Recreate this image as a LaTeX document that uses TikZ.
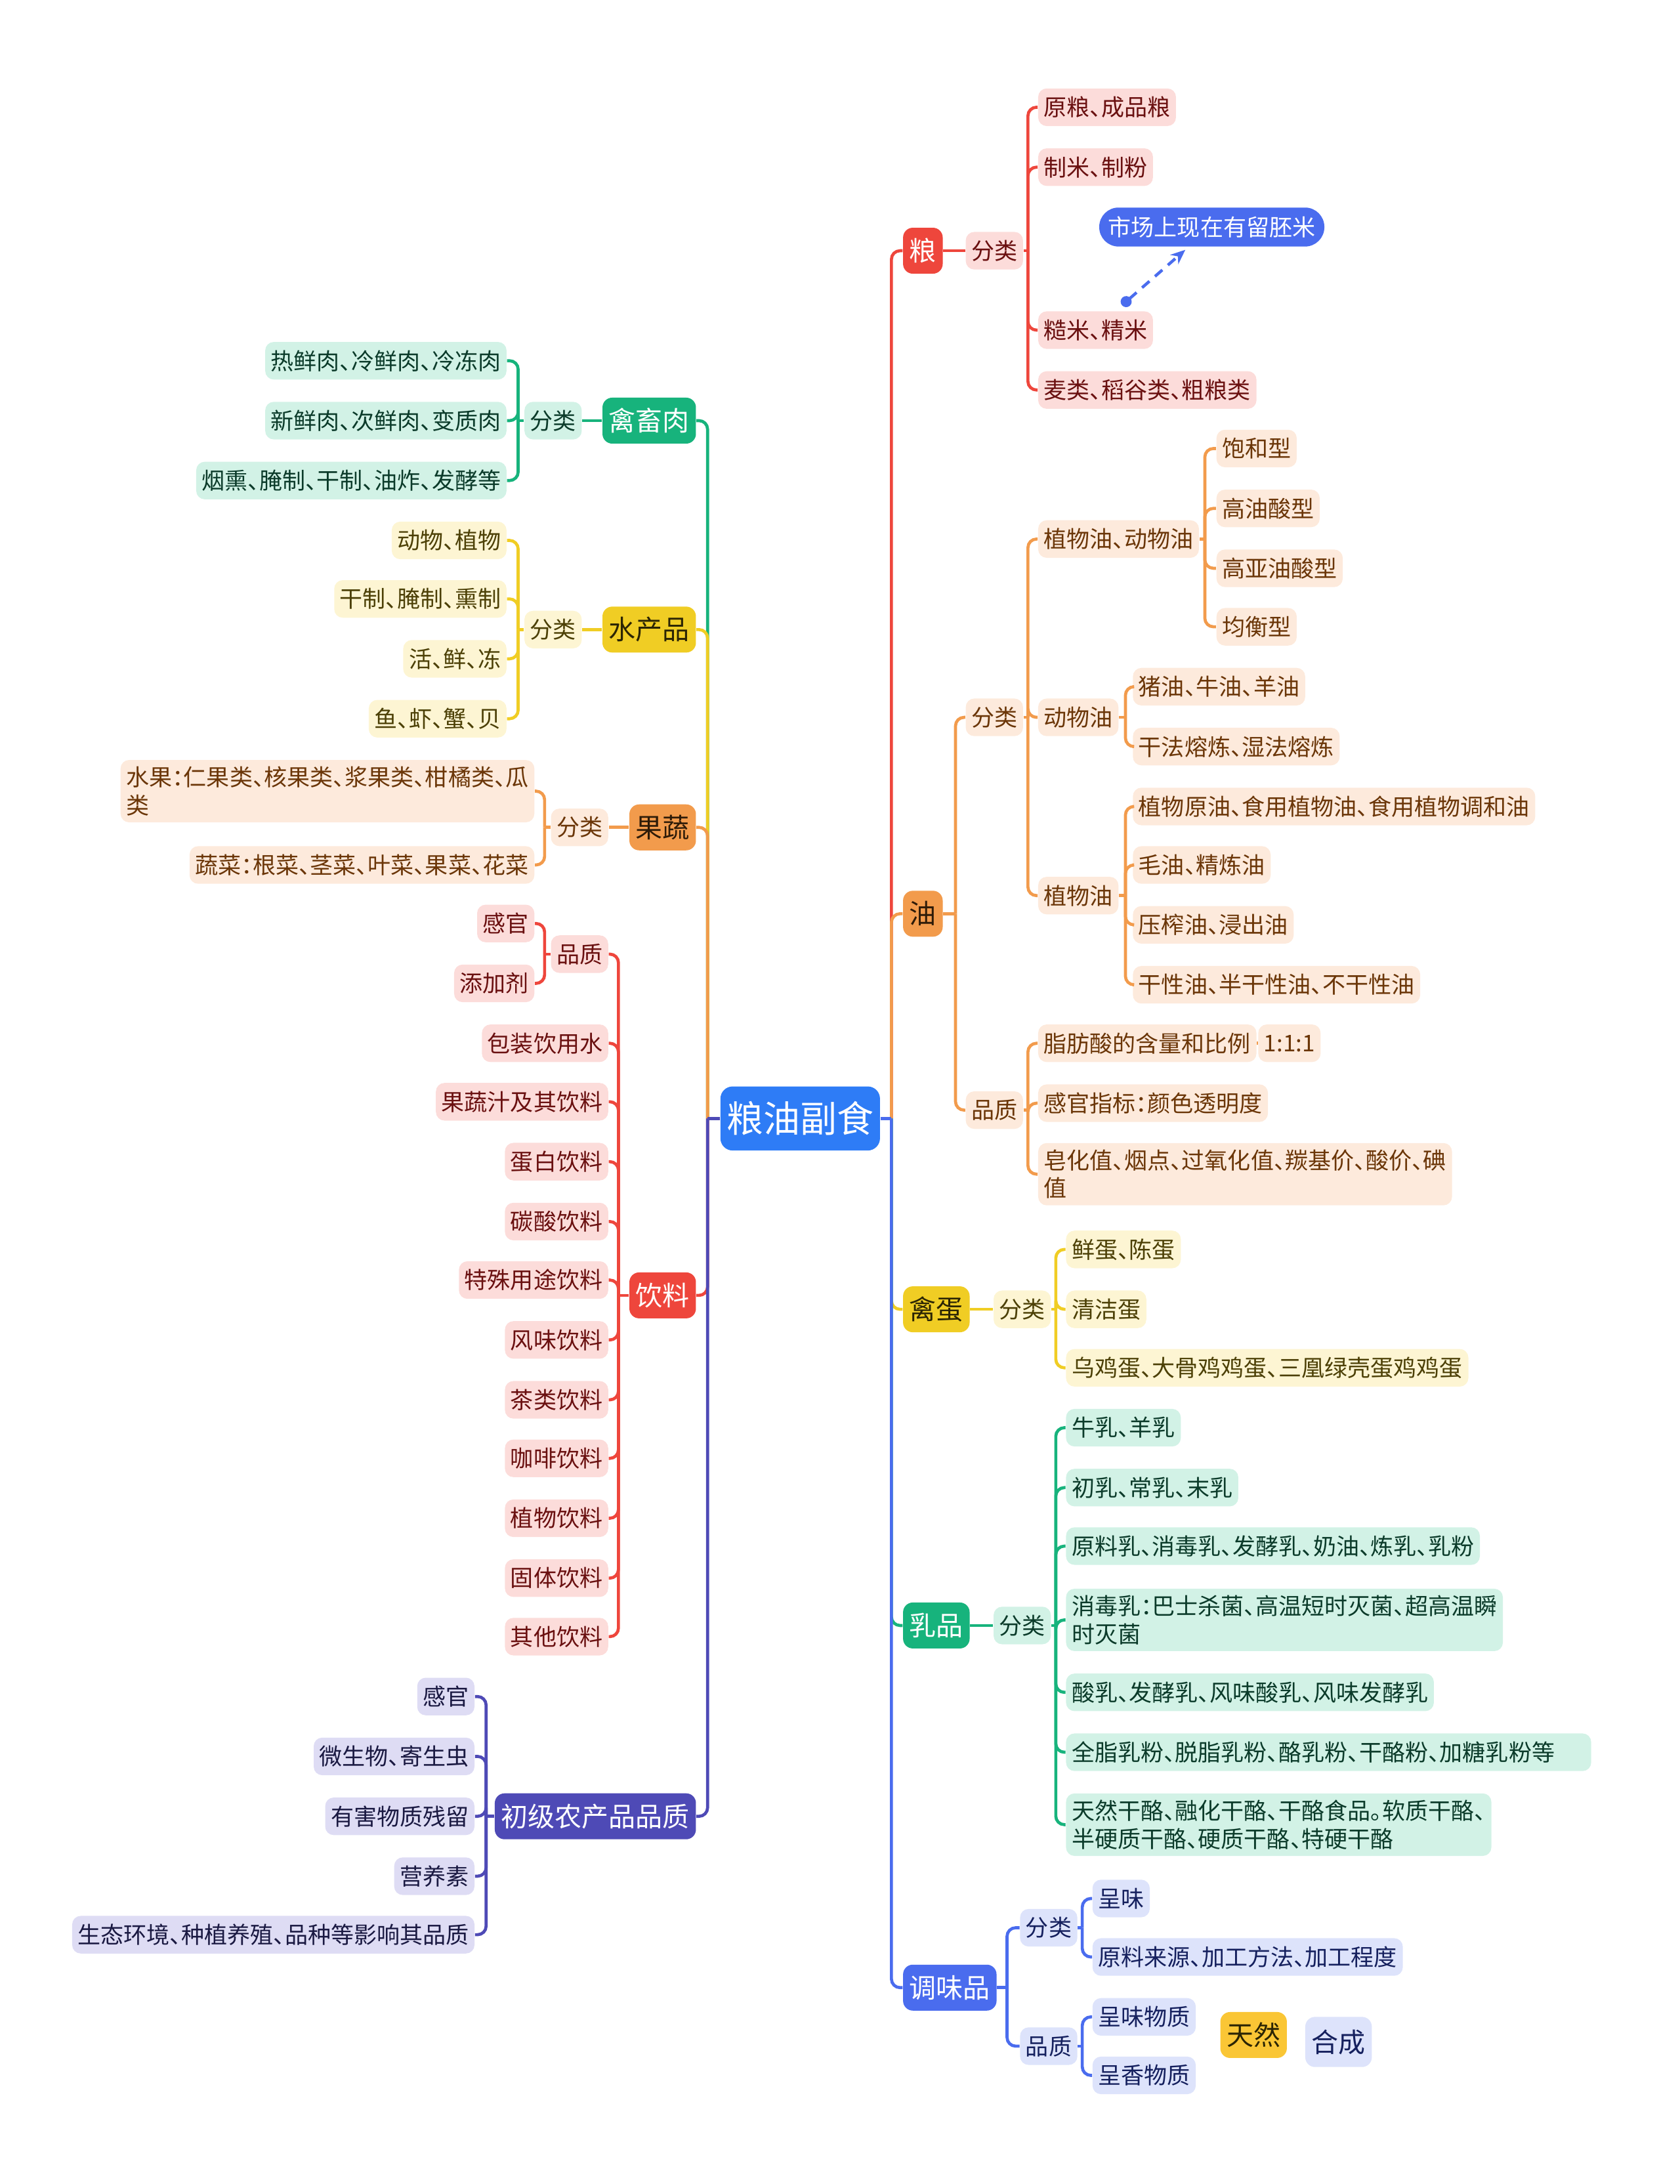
\documentclass[tikz,border=0pt]{standalone}
\usepackage{fontspec}
\setmainfont{Noto Sans CJK SC}[RawFeature=+halt]
\usetikzlibrary{arrows.meta}

\definecolor{cRoot}{HTML}{2E7CF6}
\definecolor{cRed}{HTML}{EE463C}
\definecolor{cRedF}{HTML}{FCDCDA}
\definecolor{cRedT}{HTML}{6A1010}
\definecolor{cOra}{HTML}{F29B4C}
\definecolor{cOraF}{HTML}{FDEADC}
\definecolor{cOraT}{HTML}{6B3608}
\definecolor{cOraD}{HTML}{2E1B08}
\definecolor{cYel}{HTML}{F0CD24}
\definecolor{cYelF}{HTML}{FDF5D3}
\definecolor{cYelT}{HTML}{4C4006}
\definecolor{cYelD}{HTML}{2B2504}
\definecolor{cGre}{HTML}{17B37C}
\definecolor{cGreF}{HTML}{D2F2E6}
\definecolor{cGreT}{HTML}{0B3B2A}
\definecolor{cBlu}{HTML}{4A6CEE}
\definecolor{cBluF}{HTML}{DDE3FB}
\definecolor{cBluT}{HTML}{15205E}
\definecolor{cInd}{HTML}{4E4AB6}
\definecolor{cIndF}{HTML}{DEDCF4}
\definecolor{cIndT}{HTML}{1A1942}
\definecolor{cGold}{HTML}{FAC635}

\tikzset{
  leafbox/.style={rounded corners=3.5pt, inner xsep=2.3pt, inner ysep=2.7pt, minimum height=0.54cm, align=left, font=\fontsize{9.4}{11.4}\selectfont},
  topicnode/.style={rounded corners=4pt, inner xsep=2.6pt, inner ysep=1pt, minimum height=0.66cm, font=\fontsize{11}{13}\selectfont},
  rootnode/.style={rounded corners=5pt, fill=cRoot, text=white, inner xsep=2.6pt, minimum height=0.92cm, font=\fontsize{15}{18}\selectfont},
  notenode/.style={leafbox, fill=cBlu, text=white, rounded corners=7.9pt, inner xsep=3.7pt, minimum height=0.56cm},
  rleaf/.style={leafbox, fill=cRedF, text=cRedT},
  oleaf/.style={leafbox, fill=cOraF, text=cOraT},
  yleaf/.style={leafbox, fill=cYelF, text=cYelT},
  gleaf/.style={leafbox, fill=cGreF, text=cGreT},
  bleaf/.style={leafbox, fill=cBluF, text=cBluT},
  ileaf/.style={leafbox, fill=cIndF, text=cIndT},
  rline/.style={draw=cRed, line width=1.25pt, rounded corners=3.5pt},
  oline/.style={draw=cOra, line width=1.25pt, rounded corners=3.5pt},
  yline/.style={draw=cYel, line width=1.25pt, rounded corners=3.5pt},
  gline/.style={draw=cGre, line width=1.25pt, rounded corners=3.5pt},
  bline/.style={draw=cBlu, line width=1.25pt, rounded corners=3.5pt},
  iline/.style={draw=cInd, line width=1.25pt, rounded corners=3.5pt},
  notearrow/.style={draw=cBlu, line width=1.2pt, dash pattern=on 4pt off 3pt, {Circle[length=4.5pt]}-{Stealth[length=6pt,width=5pt]}}
}

\begin{document}
\begin{tikzpicture}[x=0.02cm, y=-0.02cm]
\useasboundingbox (0,0) rectangle (1206,1568);

% centre
\node[rootnode] (root) at (574.5,803) {粮油副食};
\coordinate (jr) at (640,803);
\coordinate (jl) at (508,803);

% topics right
\node[topicnode, fill=cRed, text=white, anchor=west] (liang) at (648,180) {粮};
\node[topicnode, fill=cOra, text=cOraD, anchor=west] (you) at (648,656) {油};
\node[topicnode, fill=cYel, text=cYelD, anchor=west] (qd) at (648,940) {禽蛋};
\node[topicnode, fill=cGre, text=white, anchor=west] (rp) at (648,1167) {乳品};
\node[topicnode, fill=cBlu, text=white, anchor=west] (twp) at (648,1427) {调味品};

% topics left
\node[topicnode, fill=cGre, text=white, anchor=east] (qcr) at (500,302) {禽畜肉};
\node[topicnode, fill=cYel, text=cYelD, anchor=east] (scp) at (500,452) {水产品};
\node[topicnode, fill=cOra, text=cOraD, anchor=east] (gs) at (500,594) {果蔬};
\node[topicnode, fill=cRed, text=white, anchor=east] (yl) at (500,930) {饮料};
\node[topicnode, fill=cInd, text=white, anchor=east] (cj) at (500,1304) {初级农产品品质};

% main branches
\draw[rline] (jr) |- (liang.west);
\draw[oline] (jr) |- (you.west);
\draw[yline] (jr) |- (qd.west);
\draw[gline] (jr) |- (rp.west);
\draw[bline] (jr) |- (twp.west);
\draw[bline] (root.east) -- (jr);
\draw[gline] (jl) |- (qcr.east);
\draw[yline] (jl) |- (scp.east);
\draw[oline] (jl) |- (gs.east);
\draw[rline] (jl) |- (yl.east);
\draw[iline] (jl) |- (cj.east);
\draw[iline] (root.west) -- (jl);

% 粮
\node[rleaf, anchor=west] (liangfl) at (693,180) {分类};
\node[rleaf, anchor=west] (l1) at (745,77) {原粮、成品粮};
\node[rleaf, anchor=west] (l2) at (745,120) {制米、制粉};
\node[rleaf, anchor=west] (l3) at (745,237) {糙米、精米};
\node[rleaf, anchor=west] (l4) at (745,280) {麦类、稻谷类、粗粮类};
\node[notenode] (note) at (870,163) {市场上现在有留胚米};
\coordinate (jliang) at (738,180);
\draw[rline] (liang.east) -- (liangfl.west);
\draw[rline] (liangfl.east) -- (jliang);
\foreach \n in {l1,l2,l3,l4} \draw[rline] (jliang) |- (\n.west);
\draw[notearrow] ([xshift=0.38cm,yshift=0.08cm]l3.north) -- ([xshift=-0.38cm,yshift=-0.04cm]note.south);

% 油
\node[oleaf, anchor=west] (youfl) at (693,515) {分类};
\node[oleaf, anchor=west] (youpz) at (693,797) {品质};
\node[oleaf, anchor=west] (yf1) at (745,387) {植物油、动物油};
\node[oleaf, anchor=west] (yf2) at (745,515) {动物油};
\node[oleaf, anchor=west] (yf3) at (745,643) {植物油};
\node[oleaf, anchor=west] (yf1a) at (873,322) {饱和型};
\node[oleaf, anchor=west] (yf1b) at (873,365) {高油酸型};
\node[oleaf, anchor=west] (yf1c) at (873,408) {高亚油酸型};
\node[oleaf, anchor=west] (yf1d) at (873,450) {均衡型};
\node[oleaf, anchor=west] (yf2a) at (813,493) {猪油、牛油、羊油};
\node[oleaf, anchor=west] (yf2b) at (813,536) {干法熔炼、湿法熔炼};
\node[oleaf, anchor=west] (yf3a) at (813,579) {植物原油、食用植物油、食用植物调和油};
\node[oleaf, anchor=west] (yf3b) at (813,621) {毛油、精炼油};
\node[oleaf, anchor=west] (yf3c) at (813,664) {压榨油、浸出油};
\node[oleaf, anchor=west] (yf3d) at (813,707) {干性油、半干性油、不干性油};
\node[oleaf, anchor=west] (yp1) at (745,749) {脂肪酸的含量和比例};
\node[oleaf, anchor=west] (yp1r) at (903,749) {1:1:1};
\node[oleaf, anchor=west] (yp2) at (745,792) {感官指标：颜色透明度};
\node[oleaf, anchor=west] (yp3) at (745,843) {皂化值、烟点、过氧化值、羰基价、酸价、碘\\值};
\coordinate (jyou) at (686,656);
\coordinate (jyoufl) at (738,515);
\coordinate (jyoupz) at (738,797);
\coordinate (jyf1) at (865,387);
\coordinate (jyf2) at (808,515);
\coordinate (jyf3) at (808,643);
\draw[oline] (you.east) -- (jyou);
\foreach \n in {youfl,youpz} \draw[oline] (jyou) |- (\n.west);
\draw[oline] (youfl.east) -- (jyoufl);
\foreach \n in {yf1,yf2,yf3} \draw[oline] (jyoufl) |- (\n.west);
\draw[oline] (yf1.east) -- (jyf1);
\foreach \n in {yf1a,yf1b,yf1c,yf1d} \draw[oline] (jyf1) |- (\n.west);
\draw[oline] (yf2.east) -- (jyf2);
\foreach \n in {yf2a,yf2b} \draw[oline] (jyf2) |- (\n.west);
\draw[oline] (yf3.east) -- (jyf3);
\foreach \n in {yf3a,yf3b,yf3c,yf3d} \draw[oline] (jyf3) |- (\n.west);
\draw[oline] (youpz.east) -- (jyoupz);
\foreach \n in {yp1,yp2,yp3} \draw[oline] (jyoupz) |- (\n.west);
\draw[oline] (yp1.east) -- (yp1r.west);

% 禽蛋
\node[yleaf, anchor=west] (qdfl) at (713,940) {分类};
\node[yleaf, anchor=west] (q1) at (765,897) {鲜蛋、陈蛋};
\node[yleaf, anchor=west] (q2) at (765,940) {清洁蛋};
\node[yleaf, anchor=west] (q3) at (765,982) {乌鸡蛋、大骨鸡鸡蛋、三凰绿壳蛋鸡鸡蛋};
\coordinate (jqd) at (758,940);
\draw[yline] (qd.east) -- (qdfl.west);
\draw[yline] (qdfl.east) -- (jqd);
\foreach \n in {q1,q2,q3} \draw[yline] (jqd) |- (\n.west);

% 乳品
\node[gleaf, anchor=west] (rpfl) at (713,1167) {分类};
\node[gleaf, anchor=west] (r1) at (765,1025) {牛乳、羊乳};
\node[gleaf, anchor=west] (r2) at (765,1068) {初乳、常乳、末乳};
\node[gleaf, anchor=west] (r3) at (765,1110) {原料乳、消毒乳、发酵乳、奶油、炼乳、乳粉};
\node[gleaf, anchor=west] (r4) at (765,1163) {消毒乳：巴士杀菌、高温短时灭菌、超高温瞬\\时灭菌};
\node[gleaf, anchor=west] (r5) at (765,1215) {酸乳、发酵乳、风味酸乳、风味发酵乳};
\node[gleaf, anchor=west, text width=7.38cm] (r6) at (765,1258) {全脂乳粉、脱脂乳粉、酪乳粉、干酪粉、加糖乳粉等};
\node[gleaf, anchor=west] (r7) at (765,1310) {天然干酪、融化干酪、干酪食品。软质干酪、\\半硬质干酪、硬质干酪、特硬干酪};
\coordinate (jrp) at (758,1167);
\draw[gline] (rp.east) -- (rpfl.west);
\draw[gline] (rpfl.east) -- (jrp);
\foreach \n in {r1,r2,r3,r4,r5,r6,r7} \draw[gline] (jrp) |- (\n.west);

% 调味品
\node[bleaf, anchor=west] (twpfl) at (732,1384) {分类};
\node[bleaf, anchor=west] (twppz) at (732,1469) {品质};
\node[bleaf, anchor=west] (t1) at (784,1363) {呈味};
\node[bleaf, anchor=west] (t2) at (784,1405) {原料来源、加工方法、加工程度};
\node[bleaf, anchor=west] (t3) at (784,1448) {呈味物质};
\node[bleaf, anchor=west] (t4) at (784,1490) {呈香物质};
\node[topicnode, fill=cGold, text=cYelD] (tr) at (900,1461) {天然};
\node[topicnode, fill=cBluF, text=cBluT, minimum height=0.72cm] (hc) at (961,1466) {合成};
\coordinate (jtwp) at (723,1427);
\coordinate (jtwpfl) at (777,1384);
\coordinate (jtwppz) at (777,1469);
\draw[bline] (twp.east) -- (jtwp);
\foreach \n in {twpfl,twppz} \draw[bline] (jtwp) |- (\n.west);
\draw[bline] (twpfl.east) -- (jtwpfl);
\foreach \n in {t1,t2} \draw[bline] (jtwpfl) |- (\n.west);
\draw[bline] (twppz.east) -- (jtwppz);
\foreach \n in {t3,t4} \draw[bline] (jtwppz) |- (\n.west);

% 禽畜肉
\node[gleaf, anchor=east] (qcrfl) at (418,302) {分类};
\node[gleaf, anchor=east] (c1) at (364,259) {热鲜肉、冷鲜肉、冷冻肉};
\node[gleaf, anchor=east] (c2) at (364,302) {新鲜肉、次鲜肉、变质肉};
\node[gleaf, anchor=east] (c3) at (364,345) {烟熏、腌制、干制、油炸、发酵等};
\coordinate (jqcr) at (372,302);
\draw[gline] (qcr.west) -- (qcrfl.east);
\draw[gline] (qcrfl.west) -- (jqcr);
\foreach \n in {c1,c2,c3} \draw[gline] (jqcr) |- (\n.east);

% 水产品
\node[yleaf, anchor=east] (scpfl) at (418,452) {分类};
\node[yleaf, anchor=east] (s1) at (364,388) {动物、植物};
\node[yleaf, anchor=east] (s2) at (364,430) {干制、腌制、熏制};
\node[yleaf, anchor=east] (s3) at (364,473) {活、鲜、冻};
\node[yleaf, anchor=east] (s4) at (364,516) {鱼、虾、蟹、贝};
\coordinate (jscp) at (372,452);
\draw[yline] (scp.west) -- (scpfl.east);
\draw[yline] (scpfl.west) -- (jscp);
\foreach \n in {s1,s2,s3,s4} \draw[yline] (jscp) |- (\n.east);

% 果蔬
\node[oleaf, anchor=east] (gsfl) at (437,594) {分类};
\node[oleaf, anchor=east] (g1) at (384,568) {水果：仁果类、核果类、浆果类、柑橘类、瓜\\类};
\node[oleaf, anchor=east] (g2) at (384,621) {蔬菜：根菜、茎菜、叶菜、果菜、花菜};
\coordinate (jgs) at (391,594);
\draw[oline] (gs.west) -- (gsfl.east);
\draw[oline] (gsfl.west) -- (jgs);
\foreach \n in {g1,g2} \draw[oline] (jgs) |- (\n.east);

% 饮料
\node[rleaf, anchor=east] (ylpz) at (437,685) {品质};
\node[rleaf, anchor=east] (ylp1) at (384,663) {感官};
\node[rleaf, anchor=east] (ylp2) at (384,706) {添加剂};
\node[rleaf, anchor=east] (y1) at (437,749) {包装饮用水};
\node[rleaf, anchor=east] (y2) at (437,791) {果蔬汁及其饮料};
\node[rleaf, anchor=east] (y3) at (437,834) {蛋白饮料};
\node[rleaf, anchor=east] (y4) at (437,877) {碳酸饮料};
\node[rleaf, anchor=east] (y5) at (437,919) {特殊用途饮料};
\node[rleaf, anchor=east] (y6) at (437,962) {风味饮料};
\node[rleaf, anchor=east] (y7) at (437,1005) {茶类饮料};
\node[rleaf, anchor=east] (y8) at (437,1047) {咖啡饮料};
\node[rleaf, anchor=east] (y9) at (437,1090) {植物饮料};
\node[rleaf, anchor=east] (y10) at (437,1133) {固体饮料};
\node[rleaf, anchor=east] (y11) at (437,1175) {其他饮料};
\coordinate (jyl) at (444,930);
\coordinate (jylpz) at (391,685);
\draw[rline] (yl.west) -- (jyl);
\foreach \n in {ylpz,y1,y2,y3,y4,y5,y6,y7,y8,y9,y10,y11} \draw[rline] (jyl) |- (\n.east);
\draw[rline] (ylpz.west) -- (jylpz);
\foreach \n in {ylp1,ylp2} \draw[rline] (jylpz) |- (\n.east);

% 初级农产品品质
\node[ileaf, anchor=east] (cj1) at (341,1218) {感官};
\node[ileaf, anchor=east] (cj2) at (341,1261) {微生物、寄生虫};
\node[ileaf, anchor=east] (cj3) at (341,1304) {有害物质残留};
\node[ileaf, anchor=east] (cj4) at (341,1347) {营养素};
\node[ileaf, anchor=east] (cj5) at (341,1389) {生态环境、种植养殖、品种等影响其品质};
\coordinate (jcj) at (349,1304);
\draw[iline] (cj.west) -- (jcj);
\foreach \n in {cj1,cj2,cj3,cj4,cj5} \draw[iline] (jcj) |- (\n.east);

\end{tikzpicture}
\end{document}
